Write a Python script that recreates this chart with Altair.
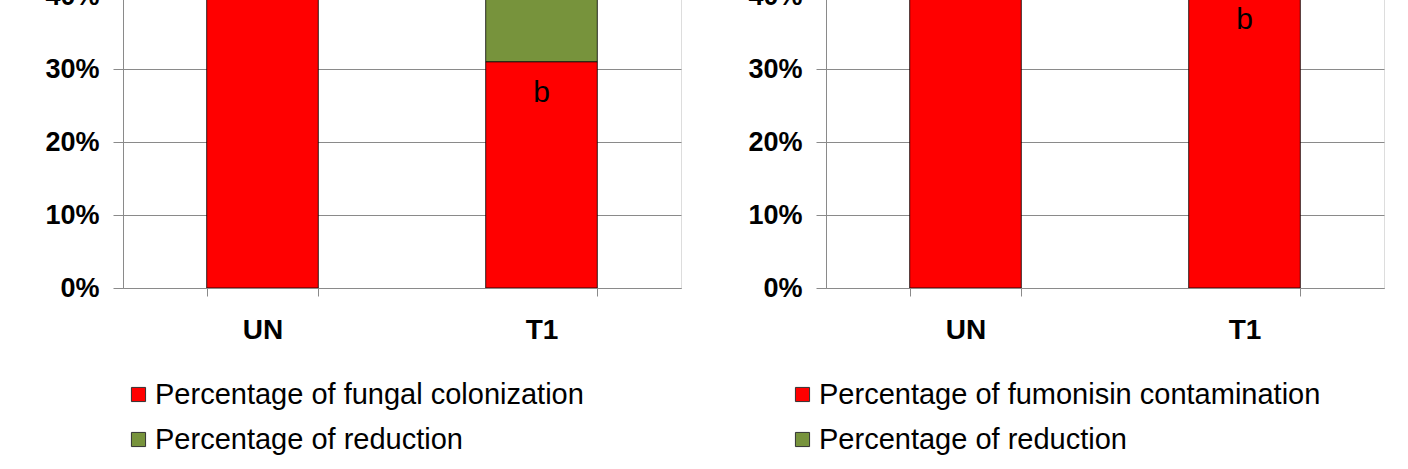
import altair as alt
import pandas as pd

categories = ["UN", "T1"]
colonization = [1.00, 0.31]
reduction_left = [0.00, 0.69]
contamination = [1.00, 0.41]
reduction_right = [0.00, 0.59]
letters = ["", "b"]
series_left = ["Percentage of fungal colonization", "Percentage of reduction"]
series_right = ["Percentage of fumonisin contamination", "Percentage of reduction"]
tick_values = [0, 0.1, 0.2, 0.3, 0.4]

RED = "#FF0000"
GREEN = "#77933C"
GRID = "#8A8A8A"
FONT = "Liberation Sans"


def panel(main_vals, red_vals, series, legend_x):
    rows = []
    for c, m, r in zip(categories, main_vals, red_vals):
        rows.append({"cat": c, "series": series[0], "value": m, "order": 0})
        rows.append({"cat": c, "series": series[1], "value": r, "order": 1})
    df = pd.DataFrame(rows)
    tdf = pd.DataFrame({"cat": categories, "value": main_vals, "letter": letters})
    tdf = tdf[tdf["letter"] != ""]

    x = alt.X(
        "cat:N",
        sort=categories,
        title=None,
        scale=alt.Scale(paddingInner=0.6, paddingOuter=0.3),
        axis=alt.Axis(
            labelAngle=0, labelFont=FONT, labelFontSize=28, labelFontWeight="bold",
            labelColor="#000", tickBand="extent", tickSize=8, tickColor=GRID,
            domainColor=GRID, labelPadding=20, grid=False,
        ),
    )
    y_axis = alt.Axis(
        format=".0%", values=tick_values, title=None, labelFont=FONT,
        labelFontSize=27, labelFontWeight="bold", labelColor="#000",
        tickSize=10, tickColor=GRID, labelPadding=14, gridColor=GRID,
        domainColor=GRID, gridWidth=1,
    )
    bars = alt.Chart(df).mark_bar(stroke="#000", strokeWidth=0.8, clip=True).encode(
        x=x,
        y=alt.Y("value:Q", stack="zero", axis=y_axis,
                scale=alt.Scale(domain=[0, 0.4], nice=False)),
        order=alt.Order("order:Q"),
        color=alt.Color(
            "series:N",
            scale=alt.Scale(domain=series, range=[RED, GREEN]),
            legend=alt.Legend(
                orient="none", legendX=legend_x, legendY=384, direction="vertical",
                title=None, symbolType="square", symbolSize=200,
                symbolStrokeColor="#333", symbolStrokeWidth=1,
                labelFont=FONT, labelFontSize=29, labelColor="#000",
                rowPadding=15, labelOffset=2, labelLimit=0,
            ),
        ),
    )
    text = alt.Chart(tdf).mark_text(
        dy=31, fontSize=30, font=FONT, color="#000", baseline="middle", clip=True
    ).encode(x=alt.X("cat:N", sort=categories), y=alt.Y("value:Q"), text="letter:N")
    return alt.layer(bars, text).properties(width=558, height=292)


left = panel(colonization, reduction_left, series_left, 1)
right = panel(contamination, reduction_right, series_right, -38)

chart = (
    alt.hconcat(left, right, spacing=65)
    .resolve_scale(color="independent")
    .properties(padding={"left": 44, "top": -19, "right": 0, "bottom": 0})
    .configure_view(strokeWidth=0)
    .configure(background="white")
)

chart.save("out.html", embed_options={"renderer": "svg", "actions": False})
